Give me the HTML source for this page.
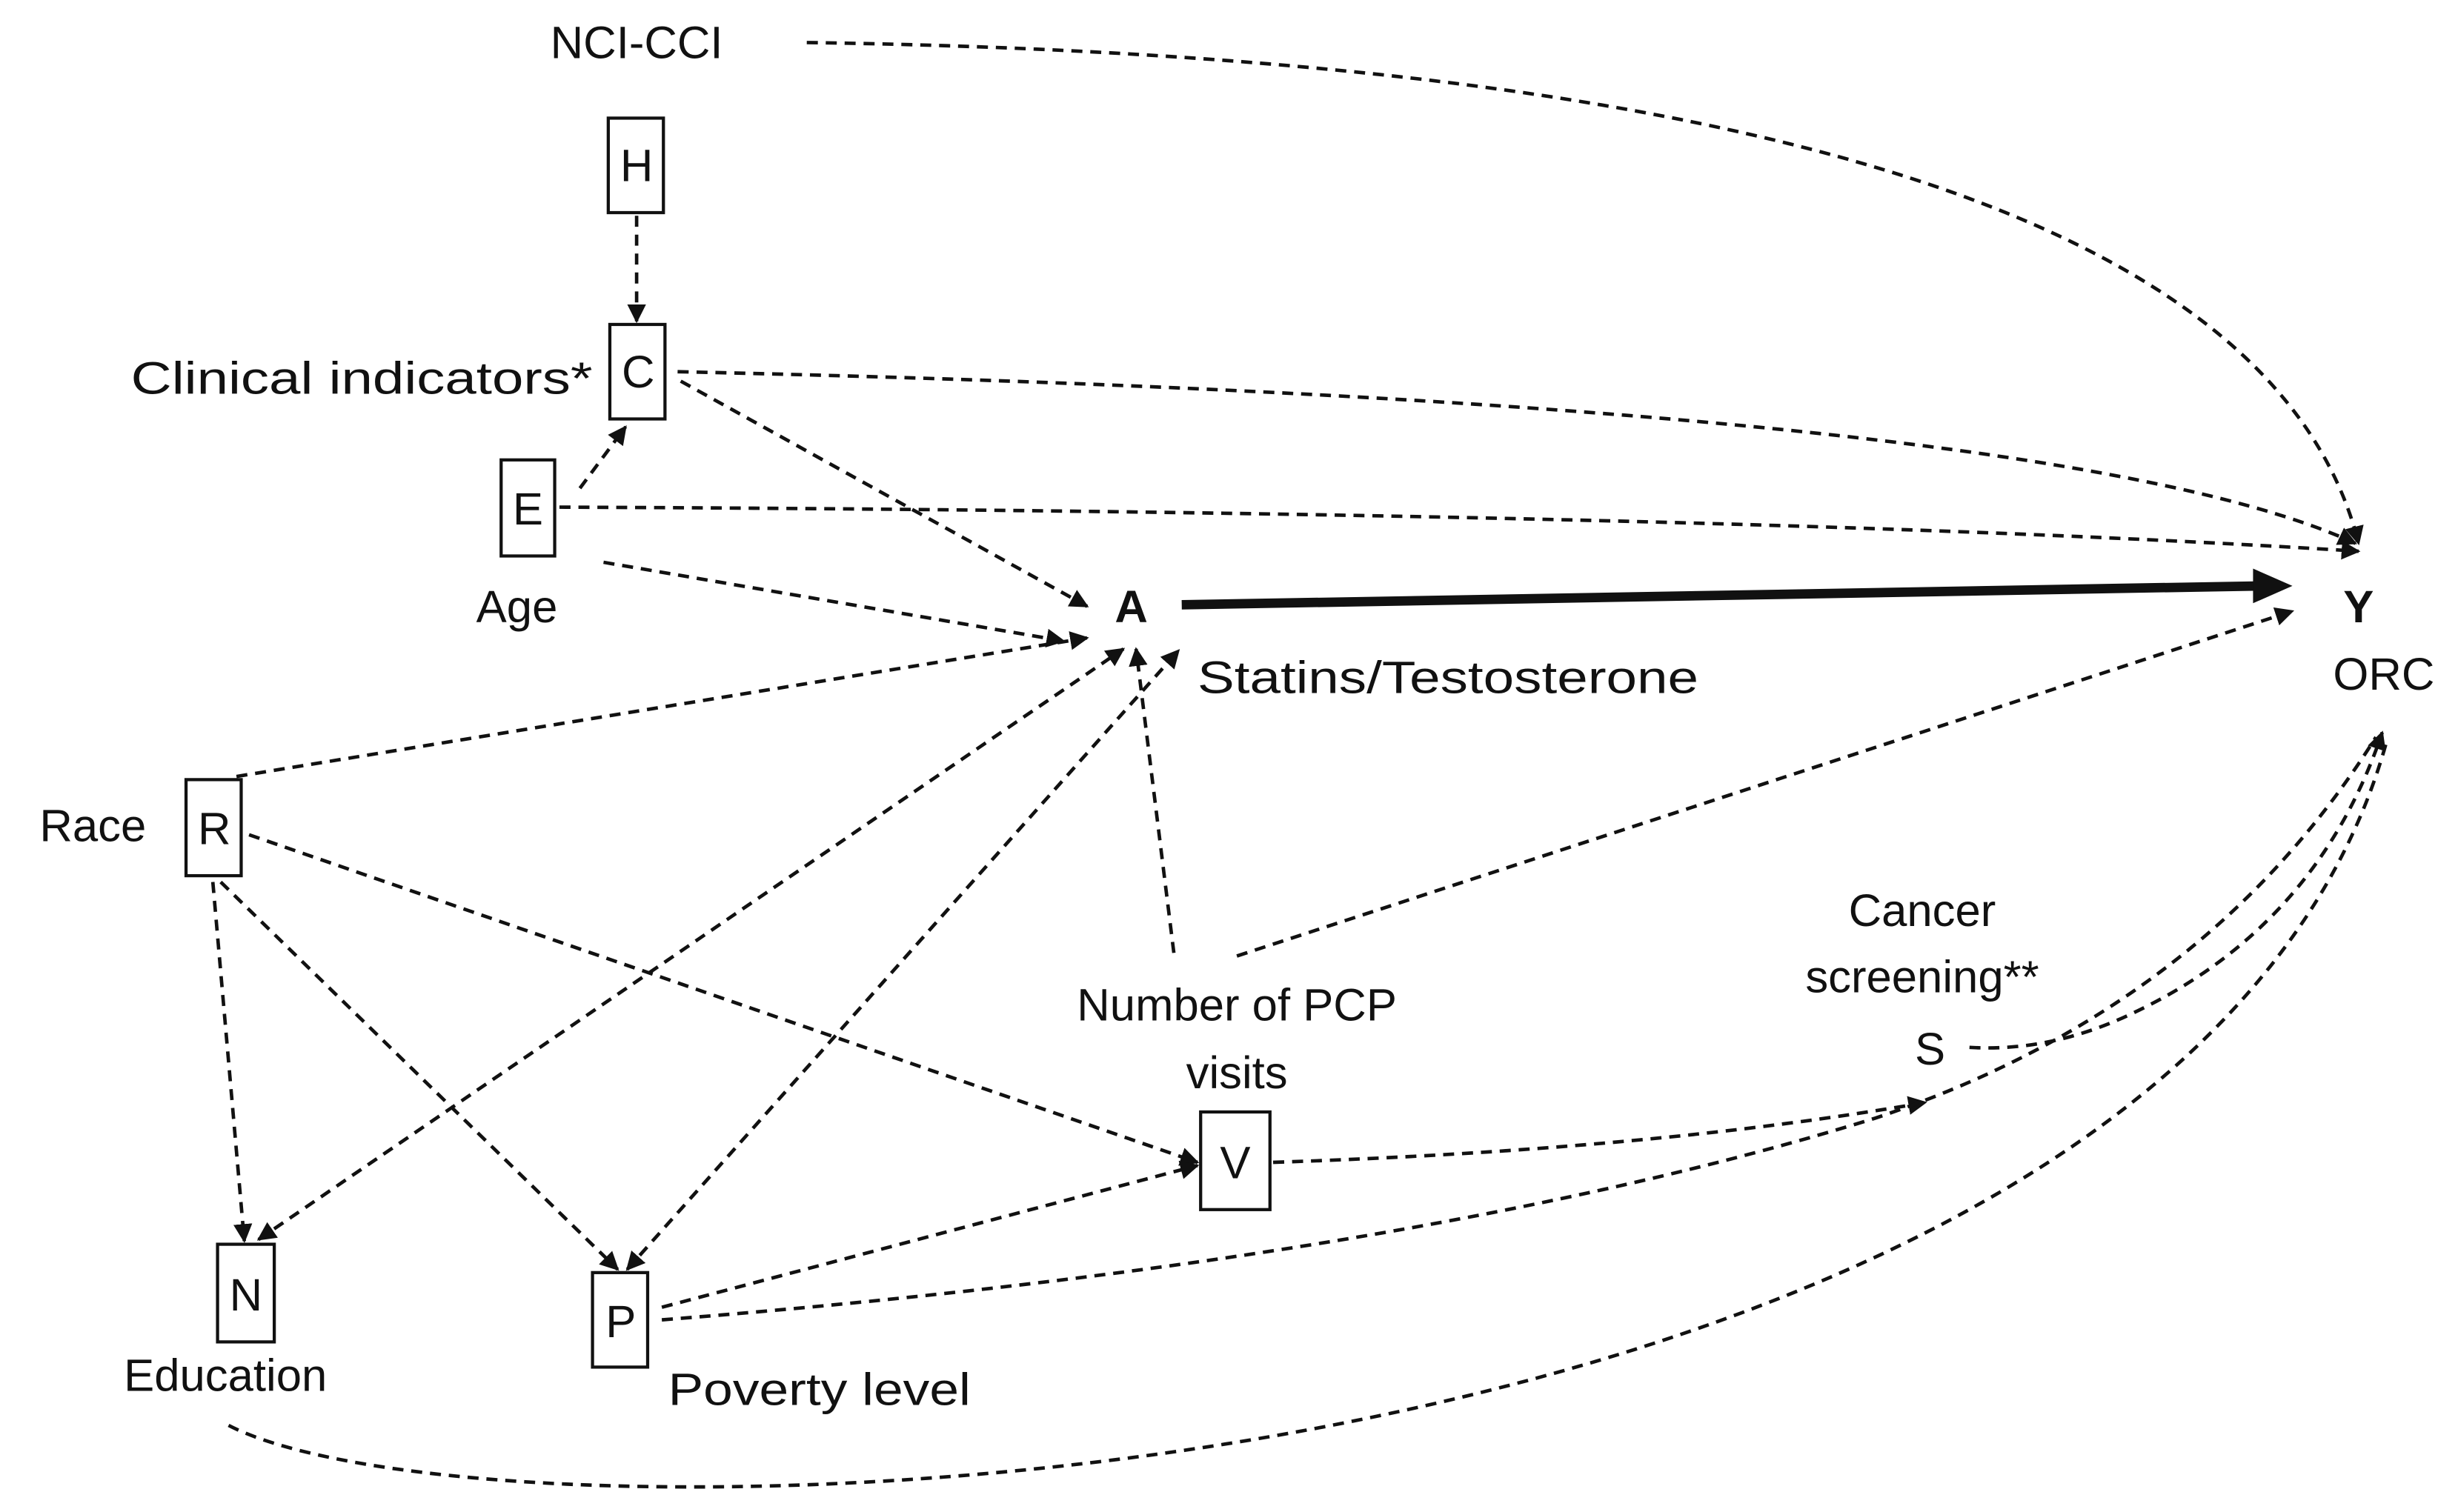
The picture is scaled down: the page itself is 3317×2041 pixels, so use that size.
<!DOCTYPE html>
<html><head><meta charset="utf-8"><style>
html,body{margin:0;padding:0;background:#fff;}
svg{display:block;}
text{font-family:"Liberation Sans",sans-serif;fill:#111;}
</style></head><body>
<svg width="3317" height="2041" viewBox="0 0 1560 960" xmlns="http://www.w3.org/2000/svg">
<defs>
<marker id="ah" viewBox="0 0 10 10" refX="9" refY="5" markerWidth="12" markerHeight="12" markerUnits="userSpaceOnUse" orient="auto-start-reverse">
<path d="M0,0 L10,5 L0,10 z" fill="#111"/></marker>
</defs>
<rect width="1560" height="960" fill="#fff"/>
<g fill="none" stroke="#111" stroke-width="2.2" stroke-dasharray="7,5">
<path d="M512,27 Q1420,40 1497,345" marker-end="url(#ah)"/>
<path d="M404,137 L404,204" marker-end="url(#ah)"/>
<path d="M430,236 Q1300,255 1495,345" marker-end="url(#ah)"/>
<path d="M432,242 L690,385" marker-end="url(#ah)"/>
<path d="M368,310 L397,271" marker-end="url(#ah)"/>
<path d="M355,322 Q1100,325 1497,350" marker-end="url(#ah)"/>
<path d="M383,357 L675,407" marker-end="url(#ah)"/>
<path d="M150,493 L690,405" marker-end="url(#ah)"/>
<path d="M164,787 L713,412" marker-start="url(#ah)" marker-end="url(#ah)"/>
<path d="M745,605 L721,412" marker-end="url(#ah)"/>
<path d="M398,806 L748,413" marker-start="url(#ah)" marker-end="url(#ah)"/>
<path d="M135,560 L155,788" marker-end="url(#ah)"/>
<path d="M140,560 L392,806" marker-end="url(#ah)"/>
<path d="M158,530 L760,738" marker-end="url(#ah)"/>
<path d="M420,830 L760,740" marker-end="url(#ah)"/>
<path d="M808,738 Q1050,730 1222,700" marker-end="url(#ah)"/>
<path d="M420,838 Q900,800 1190,710 Q1400,640 1508,468"/>
<path d="M1250,665 Q1300,668 1350,645 Q1470,590 1512,465" marker-end="url(#ah)"/>
<path d="M785,607 L1455,388" marker-end="url(#ah)"/>
<path d="M145,905 C320,995 1380,960 1515,470"/>
</g>
<line x1="750" y1="384" x2="1436" y2="372" stroke="#111" stroke-width="6"/>
<path d="M1455,372 L1430,361 L1430,383 z" fill="#111"/>
<g fill="#fff" stroke="#111" stroke-width="2">
<rect x="386" y="75" width="35" height="60"/>
<rect x="387" y="206" width="35" height="60"/>
<rect x="318" y="292" width="34" height="61"/>
<rect x="118" y="495" width="35" height="61"/>
<rect x="138" y="790" width="36" height="62"/>
<rect x="376" y="808" width="35" height="60"/>
<rect x="762" y="706" width="44" height="62"/>
</g>
<g font-size="29" text-anchor="middle">
<text x="404" y="37">NCI-CCI</text>
<text x="404" y="115">H</text>
<text x="405" y="246">C</text>
<text x="335" y="333">E</text>
<text x="136" y="536">R</text>
<text x="156" y="832">N</text>
<text x="394" y="849">P</text>
<text x="784" y="748">V</text>
<text x="1225" y="676">S</text>
<text x="328" y="395">Age</text>
<text x="143" y="883">Education</text>
<text x="785" y="648">Number of PCP</text>
<text x="785" y="691">visits</text>
<text x="1220" y="588">Cancer</text>
<text x="1220" y="630">screening**</text>
<text x="1513" y="438">ORC</text>
<text x="718" y="395" font-weight="bold">A</text>
<text x="1497" y="395" font-weight="bold">Y</text>
</g>
<g font-size="29">
<text x="83" y="250" textLength="293" lengthAdjust="spacingAndGlyphs">Clinical indicators*</text>
<text x="25" y="534">Race</text>
<text x="760" y="440" textLength="318" lengthAdjust="spacingAndGlyphs">Statins/Testosterone</text>
<text x="424" y="892" textLength="192" lengthAdjust="spacingAndGlyphs">Poverty level</text>
</g>
</svg>
</body></html>
